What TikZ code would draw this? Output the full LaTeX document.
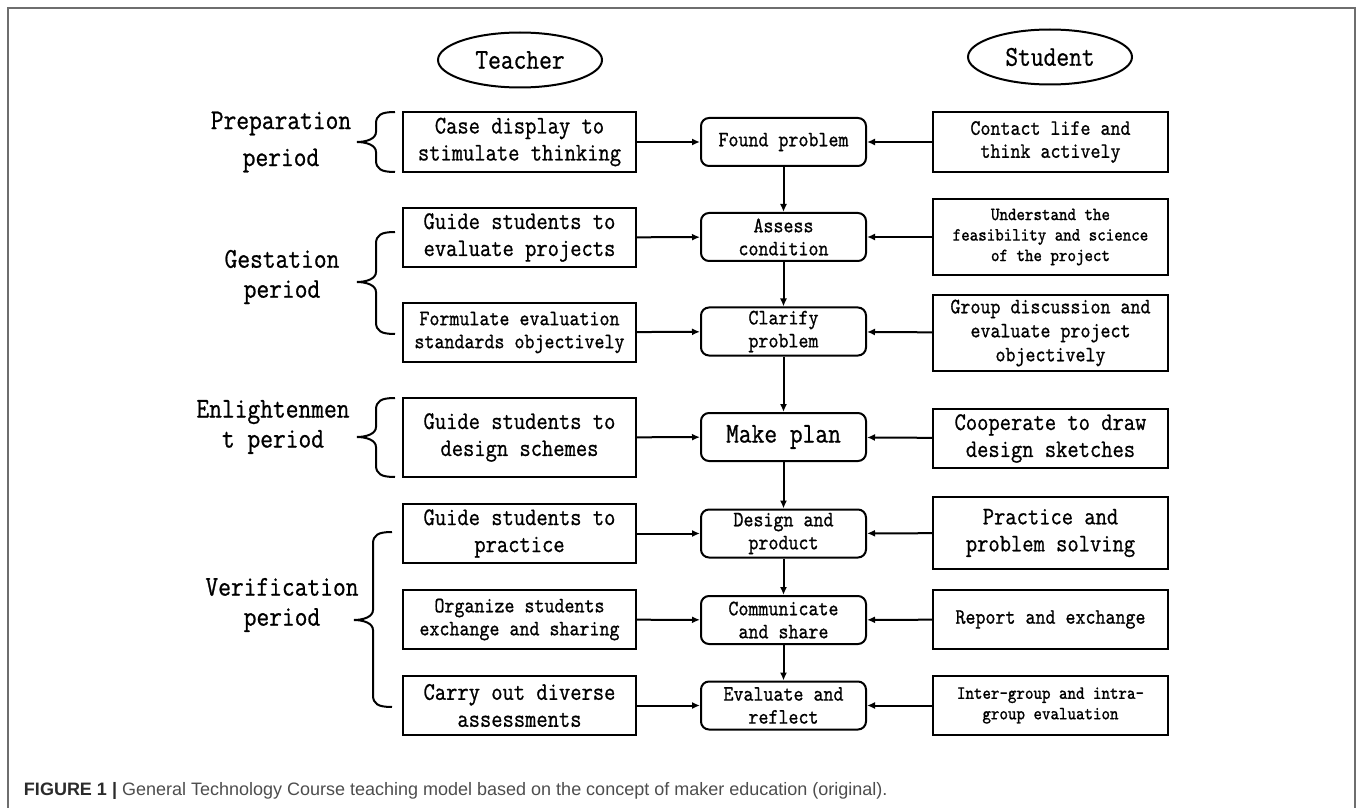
\documentclass[tikz,border=0pt]{standalone}
\usepackage{fontspec}
\newfontfamily\boxfont[FakeStretch=0.866,FakeBold=0.8]{Latin Modern Mono}
\newfontfamily\capfont{Liberation Sans}
\usetikzlibrary{arrows.meta,shapes.geometric}
\definecolor{framegray}{HTML}{6E6E6E}
\definecolor{capgray}{HTML}{4D4D4D}
\definecolor{capdark}{HTML}{2B2B2B}
% brace in front of a period: x of the ends, top, middle, bottom
\newcommand{\periodbrace}[4]{%
    \draw[-] (#1,#2) .. controls (#1-14,#2) and (#1-19,#2+3) .. (#1-19,#2+12)
        -- (#1-19,#3-10) .. controls (#1-19,#3-3) and (#1-29,#3) .. (#1-38,#3)
        .. controls (#1-29,#3) and (#1-19,#3+3) .. (#1-19,#3+10)
        -- (#1-19,#4-12) .. controls (#1-19,#4-3) and (#1-14,#4) .. (#1,#4);
}
\tikzset{
    txt big/.style = {
        font=\boxfont\fontsize{14.3pt}{15pt}\selectfont,
        },
    txt mid/.style = {
        font=\boxfont\fontsize{12.65pt}{13.5pt}\selectfont,
        },
    txt small/.style = {
        font=\boxfont\fontsize{11pt}{11.5pt}\selectfont,
        },
    txt tiny/.style = {
        font=\boxfont\fontsize{9.35pt}{10.25pt}\selectfont,
        },
    role/.style = {
        draw, ellipse, inner sep=0pt,
        minimum width=82pt, minimum height=27.5pt,
        txt big,
        },
    teacher box/.style = {
        draw, rectangle, align=center, inner sep=0pt,
        minimum width=116.5pt,
        },
    student box/.style = {
        draw, rectangle, align=center, inner sep=0pt,
        minimum width=117.5pt,
        },
    stage/.style = {
        draw, rectangle, rounded corners=4pt, align=center, inner sep=0pt,
        minimum width=82.5pt, minimum height=24pt,
        txt small,
        },
    period/.style = {
        align=center, inner sep=0pt,
        txt big,
        },
}

\begin{document}
\begin{tikzpicture}[->, x=0.5pt, y=-0.5pt, line width=1pt, >={Latex[length=4pt,width=3.5pt]}]
    \useasboundingbox (0,0) rectangle (1357,808);
    \draw[-, framegray] (8,808) -- (8,8) -- (1355,8) -- (1355,808);

    \node[role] (teacher) at (520,60) {Teacher};
    \node[role] (student) at (1050,57) {Student};

    % teacher side
    \node[teacher box, minimum height=30pt, txt mid] (t1) at (519.5,142) {Case display to\\stimulate thinking};
    \node[teacher box, minimum height=29.5pt, txt mid] (t2) at (519.5,237.5) {Guide students to\\evaluate projects};
    \node[teacher box, minimum height=29.5pt, txt small] (t3) at (519.5,332.5) {Formulate evaluation\\standards objectively};
    \node[teacher box, minimum height=39.5pt, txt mid] (t4) at (519.5,437.5) {Guide students to\\design schemes};
    \node[teacher box, minimum height=29.5pt, txt mid] (t5) at (519.5,533.5) {Guide students to\\practice};
    \node[teacher box, minimum height=29.5pt, txt small] (t6) at (519.5,619.5) {Organize students\\exchange and sharing};
    \node[teacher box, minimum height=29.5pt, txt mid] (t7) at (519.5,705.5) {Carry out diverse\\assessments};

    % stages
    \node[stage] (p1) at (783.5,142) {Found problem};
    \node[stage] (p2) at (783.5,237) {Assess\\condition};
    \node[stage] (p3) at (783.5,331.5) {Clarify\\problem};
    \node[stage, txt big] (p4) at (783.5,437) {Make plan};
    \node[stage] (p5) at (783.5,533.5) {Design and\\product};
    \node[stage] (p6) at (783.5,620) {Communicate\\and share};
    \node[stage] (p7) at (783.5,705.5) {Evaluate and\\reflect};

    % student side
    \node[student box, minimum height=30pt, txt small] (s1) at (1050.5,142) {Contact life and\\think actively};
    \node[student box, minimum height=38pt, txt tiny] (s2) at (1050.5,237) {Understand the\\feasibility and science\\of the project};
    \node[student box, minimum height=38pt, font=\boxfont\fontsize{11pt}{12pt}\selectfont] (s3) at (1050.5,333) {Group discussion and\\evaluate project\\objectively};
    \node[student box, minimum height=29.5pt, txt mid] (s4) at (1050.5,438.5) {Cooperate to draw\\design sketches};
    \node[student box, minimum height=36pt, txt mid] (s5) at (1050.5,533) {Practice and\\problem solving};
    \node[student box, minimum height=29.5pt, txt small] (s6) at (1050.5,619.5) {Report and exchange};
    \node[student box, minimum height=29.5pt, txt tiny] (s7) at (1050.5,705.5) {Inter-group and intra-\\group evaluation};

    % periods
    \node[period, font=\boxfont\fontsize{14.3pt}{18.5pt}\selectfont] (prep) at (281,142) {Preparation\\period};
    \node[period] (gest) at (282,277) {Gestation\\period};
    \node[period] (enl) at (273,427) {Enlightenmen\\t period};
    \node[period] (veri) at (282,605) {Verification\\period};
    \periodbrace{395}{112}{142}{172}
    \periodbrace{395}{232}{282}{334}
    \periodbrace{395}{398}{437}{477}
    \periodbrace{392}{532}{620}{707}

    \path (t1) edge (p1);
    \path (t2) edge (p2);
    \path (t3) edge (p3);
    \path (t4) edge (p4);
    \path (t5) edge (p5);
    \path (t6) edge (p6);
    \path (t7) edge (p7);
    \path (s1) edge (p1);
    \path (s2) edge (p2);
    \path (s3) edge (p3);
    \path (s4) edge (p4);
    \path (s5) edge (p5);
    \path (s6) edge (p6);
    \path (s7) edge (p7);
    \path (p1) edge (p2);
    \path (p2) edge (p3);
    \path (p3) edge (p4);
    \path (p4) edge (p5);
    \path (p5) edge (p6);
    \path (p6) edge (p7);

    \node[anchor=base west, inner sep=0pt, text=capgray, font=\capfont\fontsize{9pt}{10pt}\selectfont] (caption) at (23,795)
        {\textcolor{capdark}{\bfseries FIGURE 1 |} General Technology Course teaching model based on the concept of maker education (original).};
\end{tikzpicture}
\end{document}
